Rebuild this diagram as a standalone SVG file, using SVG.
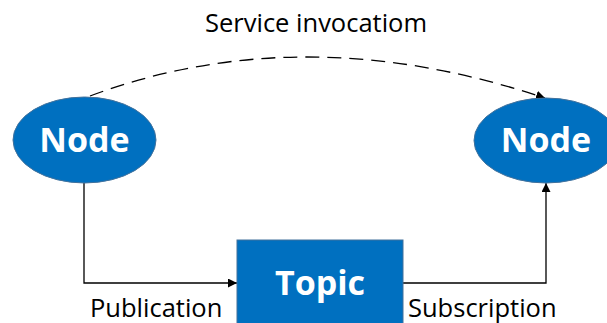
<svg xmlns="http://www.w3.org/2000/svg" width="607" height="323" viewBox="0 0 607 323">
<style>
.node{fill:#0070C0;stroke:#41719C;stroke-width:1}
.nt{font-family:"Open Sans",sans-serif;font-weight:bold;fill:#fff;text-anchor:middle}
.lbl{font-family:"Open Sans",sans-serif;font-size:25.5px;fill:#000}
.con{fill:none;stroke:#000;stroke-width:1.3}
</style>
<defs>
<marker id="arr" viewBox="0 0 10 10" refX="10" refY="5" markerWidth="9" markerHeight="9" markerUnits="userSpaceOnUse" orient="auto">
<path d="M0,0 L10,5 L0,10 z" fill="#000"/>
</marker>
</defs>
<g id="connectors">
<path class="con" d="M84 183 V283 H237" marker-end="url(#arr)"/>
<path class="con" d="M403 283 H546 V183" marker-end="url(#arr)"/>
<path class="con" d="M90 96 Q302 17 545 98" stroke-dasharray="14,8" marker-end="url(#arr)"/>
</g>
<g id="node-left">
<ellipse class="node" cx="84.5" cy="140" rx="71.5" ry="43"/>
<text class="nt" x="84.5" y="152" font-size="34">Node</text>
</g>
<g id="node-right">
<ellipse class="node" cx="546" cy="140.5" rx="72" ry="42.5"/>
<text class="nt" x="546" y="152" font-size="34">Node</text>
</g>
<g id="topic">
<rect class="node" x="237" y="240" width="166" height="90"/>
<text class="nt" x="320" y="295" font-size="34">Topic</text>
</g>
<text class="lbl" x="90" y="317">Publication</text>
<text class="lbl" x="408" y="317">Subscription</text>
<text class="lbl" x="205" y="32" font-size="27">Service invocatiom</text>
</svg>
